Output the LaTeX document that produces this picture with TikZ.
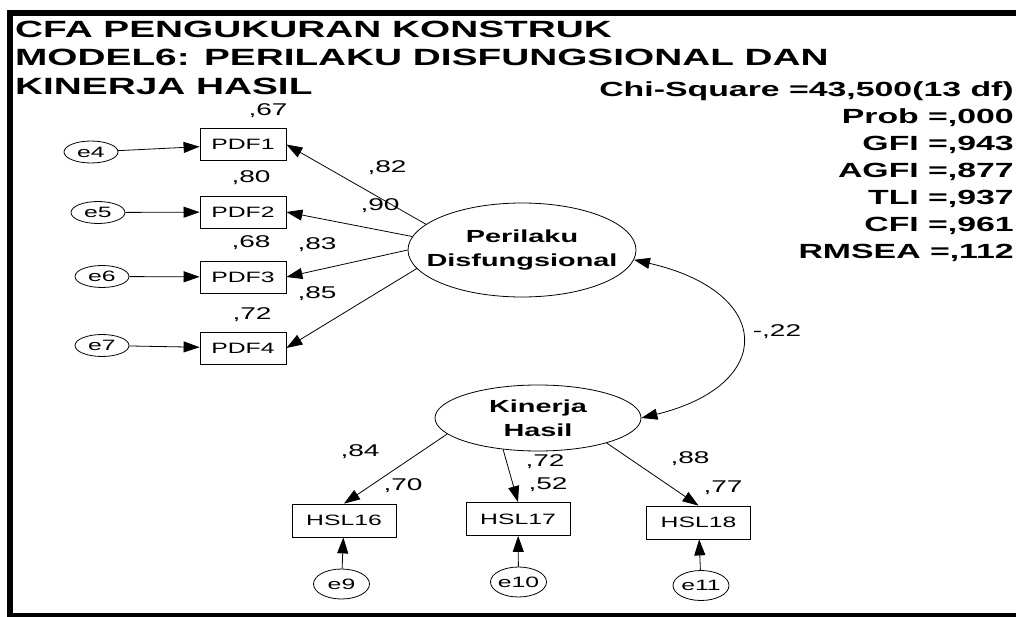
\documentclass[tikz,border=0pt]{standalone}
\usepackage{fontspec}
\setmainfont{Liberation Sans}[FakeStretch=1.65]
\usetikzlibrary{shapes.geometric, arrows.meta}

\begin{document}
\begin{tikzpicture}[
  x=1pt, y=-1pt,
  obs/.style={rectangle, draw=black, line width=0.8pt, minimum width=86pt, minimum height=32pt, inner sep=0pt, font=\fontsize{15}{18}\selectfont},
  hsl/.style={obs, minimum width=104pt, minimum height=33pt},
  err/.style={ellipse, draw=black, line width=0.8pt, minimum width=54pt, minimum height=22pt, inner xsep=-4pt, inner ysep=0pt, font=\fontsize{15}{18}\selectfont},
  errb/.style={err, minimum width=56pt, minimum height=30pt},
  lat/.style={ellipse, draw=black, line width=0.8pt, inner xsep=-40pt, inner ysep=0pt, align=center, font=\fontsize{17.5}{24}\selectfont\bfseries},
  est/.style={inner sep=0pt, font=\fontsize{17}{20}\selectfont},
  stat/.style={anchor=base east, inner sep=0pt, font=\fontsize{20.5}{24}\selectfont\bfseries},
  ttl/.style={anchor=base west, inner sep=0pt, font=\fontsize{23.5}{28}\selectfont\bfseries},
  arrow/.style={line width=0.8pt, ->, >={Stealth[length=16pt, width=11pt, inset=0pt]}}
]
\useasboundingbox (0,0) rectangle (1016,617);
\draw[line width=6pt] (1016,13) -- (10,13) -- (10,616) -- (1016,616);

% title and fit
\node (ttl1) [ttl] at (15,38) {CFA PENGUKURAN KONSTRUK};
\node (ttl2) [ttl] at (15,66) {MODEL6: PERILAKU DISFUNGSIONAL DAN};
\node (ttl3) [ttl] at (15,95) {KINERJA HASIL};
\node (chisq) [stat] at (1014,97) {Chi-Square =43,500(13 df)};
\node (prob) [stat] at (1014,124) {Prob =,000};
\node (gfi) [stat] at (1014,151) {GFI =,943};
\node (agfi) [stat] at (1014,178) {AGFI =,877};
\node (tli) [stat] at (1014,205) {TLI =,937};
\node (cfi) [stat] at (1014,232) {CFI =,961};
\node (rmsea) [stat] at (1014,259) {RMSEA =,112};

% latent variables
\node (P) [lat, minimum width=228pt, minimum height=94pt] at (522,250) {Perilaku\\Disfungsional};
\node (K) [lat, minimum width=206pt, minimum height=66pt] at (538,418) {Kinerja\\Hasil};

% indicators
\node (PDF1) [obs] at (243,144.5) {PDF1};
\node (PDF2) [obs] at (243,212) {PDF2};
\node (PDF3) [obs] at (243,277) {PDF3};
\node (PDF4) [obs] at (243,348) {PDF4};
\node (HSL16) [hsl] at (344,520.5) {HSL16};
\node (HSL17) [hsl] at (518,519) {HSL17};
\node (HSL18) [hsl] at (698.5,522.5) {HSL18};

% errors
\node (e4) [err] at (91,152) {e4};
\node (e5) [err] at (98,212.5) {e5};
\node (e6) [err] at (102,276.5) {e6};
\node (e7) [err] at (102,345.5) {e7};
\node (e9) [errb] at (341.5,584) {e9};
\node (e10) [errb] at (518.5,582) {e10};
\node (e11) [errb] at (701,585.5) {e11};

\draw [arrow] (e4) -- (PDF1);
\draw [arrow] (e5) -- (PDF2);
\draw [arrow] (e6) -- (PDF3);
\draw [arrow] (e7) -- (PDF4);
\draw [arrow] (e9) -- (HSL16);
\draw [arrow] (e10) -- (HSL17);
\draw [arrow] (e11) -- (HSL18);

\draw [arrow] (P.165) -- (PDF1.east);
\draw [arrow] (P.173) -- (PDF2.east);
\draw [arrow] (P.180) -- (PDF3.east);
\draw [arrow] (P.190) -- (PDF4.east);
\draw [arrow] (K.190) -- (HSL16.north);
\draw [arrow] (K.222) -- (HSL17.north);
\draw [arrow] (K.340) -- (HSL18.north);
\draw [arrow, <->] (P.355) .. controls +(140,32) and +(135,-33) .. (K.east);

% estimates
\node (r1) [est] at (268,111) {,67};
\node (r2) [est] at (251,178) {,80};
\node (r3) [est] at (251,243) {,68};
\node (r4) [est] at (252,315) {,72};
\node (l1) [est] at (387,168) {,82};
\node (l2) [est] at (380,206) {,90};
\node (l3) [est] at (317,245) {,83};
\node (l4) [est] at (317,294) {,85};
\node (l16) [est] at (360,452) {,84};
\node (r16) [est] at (403,486) {,70};
\node (l17) [est] at (545,462) {,72};
\node (r17) [est] at (548,485) {,52};
\node (l18) [est] at (690,459) {,88};
\node (r18) [est] at (723,488) {,77};
\node (cov) [est] at (777,332) {-,22};
\end{tikzpicture}
\end{document}
